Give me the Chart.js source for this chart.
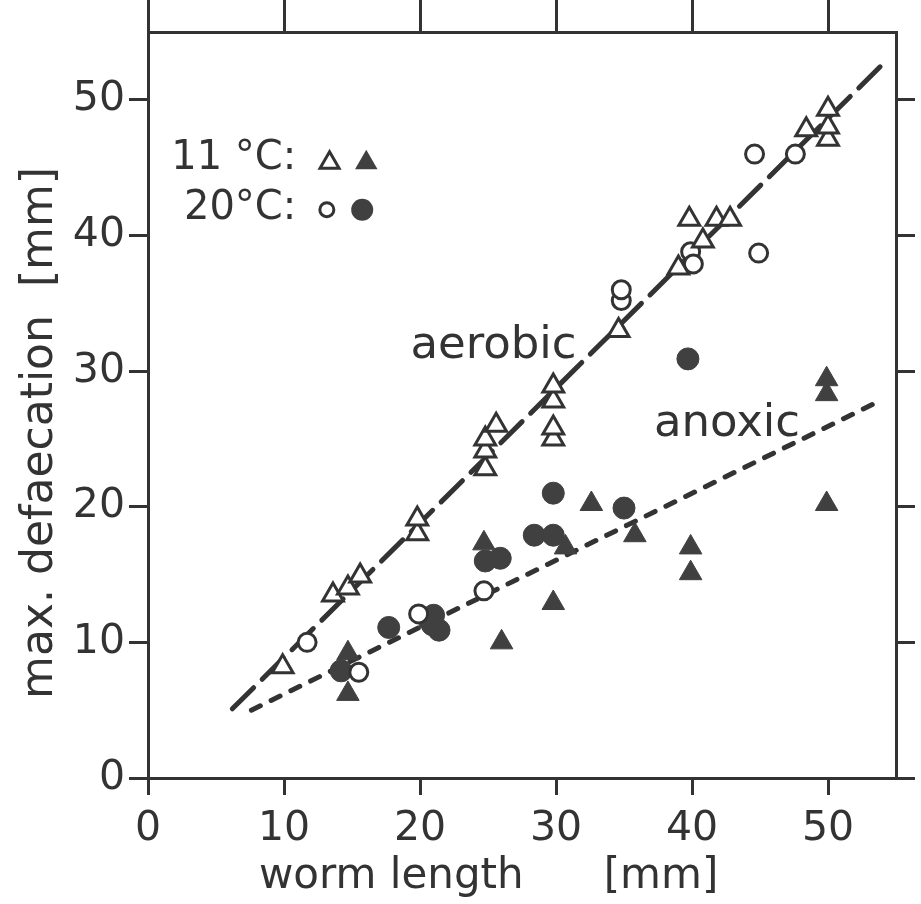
<!DOCTYPE html>
<html>
<head>
<meta charset="utf-8">
<script src="https://cdn.jsdelivr.net/npm/chart.js@4/dist/chart.umd.min.js"></script>
<style>
html,body{margin:0;padding:0;background:#fff;}
canvas{display:block;}
</style>
</head>
<body>
<canvas id="c" width="921" height="904"></canvas>
<script>
// ---- data (x = worm length [mm], y = max. defaecation [mm]) ----
const aerobic11 = [[9.9,8.2],[13.6,13.5],[14.7,14.0],[15.6,14.9],[19.8,18.0],[19.8,19.1],[24.8,22.8],[24.8,24.1],[24.8,25.0],[25.6,26.0],[29.8,25.0],[29.8,25.8],[29.8,27.8],[29.8,28.9],[34.6,33.0],[39.0,37.6],[39.8,41.2],[40.8,39.6],[41.8,41.2],[42.8,41.2],[48.4,47.8],[50.0,47.1],[50.0,48.0],[50.0,49.3]];
const aerobic20 = [[11.7,10.0],[15.5,7.8],[19.9,12.1],[24.7,13.8],[34.8,35.2],[34.8,36.0],[39.9,38.8],[40.1,37.9],[44.6,46.0],[44.9,38.7],[47.6,46.0]];
const anoxic11 = [[14.7,9.2],[14.7,6.2],[20.7,11.6],[24.7,17.3],[26.0,10.0],[29.8,12.9],[30.7,17.0],[32.6,20.2],[35.8,17.9],[39.9,17.0],[39.9,15.1],[49.9,29.4],[49.9,28.3],[49.9,20.2]];
const anoxic20 = [[14.2,7.9],[17.7,11.1],[20.9,11.3],[21.4,10.9],[21.0,12.0],[24.8,16.0],[25.9,16.2],[28.4,17.9],[29.8,17.9],[29.8,21.0],[35.0,19.9],[39.7,30.9]];
const aerobicFit = [[6.2,5.1],[54.0,52.6]];
const anoxicFit = [[7.6,5.0],[54.0,27.9]];
const axisMin = 0, axisMax = 55, tickStep = 10;
const xTitle = 'worm length      [mm]     ';
const yTitle = 'max. defaecation  [mm]    ';
const labels = [{text:'aerobic', x:19.3, y:31.0}, {text:'anoxic', x:37.2, y:25.2}];
const legendRows = [{text:'11 °C:', x:10.9, y:44.9}, {text:'20°C:', x:10.9, y:41.2}];

const INK = '#333333';
const FILL = '#404040';
const FONT = "'DejaVu Sans', sans-serif";
const pts = a => a.map(p => ({x:p[0], y:p[1]}));

const textPlugin = {
  id: 'texts',
  afterDatasetsDraw(chart) {
    const ctx = chart.ctx, xs = chart.scales.x, ys = chart.scales.y;
    ctx.save();
    ctx.fillStyle = INK;
    ctx.textBaseline = 'alphabetic';
    ctx.font = '45px ' + FONT;
    ctx.textAlign = 'left';
    labels.forEach(l => ctx.fillText(l.text, xs.getPixelForValue(l.x), ys.getPixelForValue(l.y)));
    ctx.font = '40px ' + FONT;
    ctx.textAlign = 'right';
    legendRows.forEach(l => ctx.fillText(l.text, xs.getPixelForValue(l.x), ys.getPixelForValue(l.y)));
    // legend symbols
    const tri = (cx, cy, r) => {
      ctx.beginPath();
      for (let i = 0; i < 3; i++) {
        const a = i * 2 * Math.PI / 3;
        const px = cx + Math.sin(a) * r, py = cy - Math.cos(a) * r;
        i ? ctx.lineTo(px, py) : ctx.moveTo(px, py);
      }
      ctx.closePath();
    };
    const y1 = ys.getPixelForValue(45.5), y2 = ys.getPixelForValue(41.9);
    ctx.lineWidth = 3; ctx.strokeStyle = INK; ctx.fillStyle = FILL;
    tri(xs.getPixelForValue(13.35), y1 + 2, 11); ctx.fillStyle = '#fff'; ctx.fill(); ctx.stroke();
    ctx.fillStyle = FILL;
    tri(xs.getPixelForValue(16.05), y1 + 2, 13); ctx.fill();
    ctx.beginPath(); ctx.arc(xs.getPixelForValue(13.15), y2, 7, 0, 2*Math.PI); ctx.fillStyle='#fff'; ctx.fill(); ctx.stroke();
    ctx.beginPath(); ctx.arc(xs.getPixelForValue(15.75), y2, 11, 0, 2*Math.PI); ctx.fillStyle=FILL; ctx.fill();
    ctx.restore();
  }
};

const gridCommon = (len) => ({drawOnChartArea:false, drawTicks:true, tickLength:len, color:INK, lineWidth:3, tickWidth:3, tickColor:INK});
const borderCommon = {display:true, color:INK, width:3};

new Chart(document.getElementById('c'), {
  type: 'scatter',
  data: {
    datasets: [
      {label:'11 °C aerobic', data:pts(aerobic11), pointStyle:'triangle', pointRadius:12, borderWidth:3, borderColor:INK, backgroundColor:'#ffffff', order:1},
      {label:'20 °C aerobic', data:pts(aerobic20), pointStyle:'circle', pointRadius:9, borderWidth:3, borderColor:INK, backgroundColor:'#ffffff', order:1},
      {label:'11 °C anoxic', data:pts(anoxic11), pointStyle:'triangle', pointRadius:13, borderWidth:1, borderColor:FILL, backgroundColor:FILL, order:1},
      {label:'20 °C anoxic', data:pts(anoxic20), pointStyle:'circle', pointRadius:11, borderWidth:1, borderColor:FILL, backgroundColor:FILL, order:1},
      {type:'line', label:'aerobic fit', data:pts(aerobicFit), showLine:true, pointRadius:0, borderColor:INK, borderWidth:5, borderDash:[30,12], borderCapStyle:'round', fill:false, order:5},
      {type:'line', label:'anoxic fit', data:pts(anoxicFit), showLine:true, pointRadius:0, borderColor:INK, borderWidth:5, borderDash:[10,12], borderCapStyle:'round', fill:false, order:5}
    ]
  },
  options: {
    responsive:false, animation:false, devicePixelRatio:1,
    layout:{padding:0},
    plugins:{legend:{display:false}, tooltip:{enabled:false}},
    scales:{
      x:{type:'linear', position:'bottom', min:axisMin, max:axisMax,
         ticks:{stepSize:tickStep, includeBounds:false, color:INK, font:{family:FONT, size:41}, padding:10, maxRotation:0},
         grid:gridCommon(17), border:borderCommon,
         title:{display:true, text:xTitle, color:INK, font:{family:FONT, size:42}, padding:{top:0,bottom:2}},
         afterFit(s){ s.height = 126; }},
      x2:{type:'linear', position:'top', min:axisMin, max:axisMax,
         ticks:{stepSize:tickStep, includeBounds:false, display:false},
         grid:gridCommon(32), border:borderCommon,
         afterFit(s){ s.height = 32; }},
      y:{type:'linear', position:'left', min:axisMin, max:axisMax,
         ticks:{stepSize:tickStep, includeBounds:false, color:INK, font:{family:FONT, size:41}, padding:4},
         grid:gridCommon(19), border:borderCommon,
         title:{display:true, text:yTitle, color:INK, font:{family:FONT, size:44}, padding:{top:14,bottom:0}},
         afterFit(s){ s.width = 148; }},
      y2:{type:'linear', position:'right', min:axisMin, max:axisMax,
         ticks:{stepSize:tickStep, includeBounds:false, display:false},
         grid:gridCommon(19), border:borderCommon,
         afterFit(s){ s.width = 25; }}
    }
  },
  plugins:[textPlugin]
});
</script>
</body>
</html>
